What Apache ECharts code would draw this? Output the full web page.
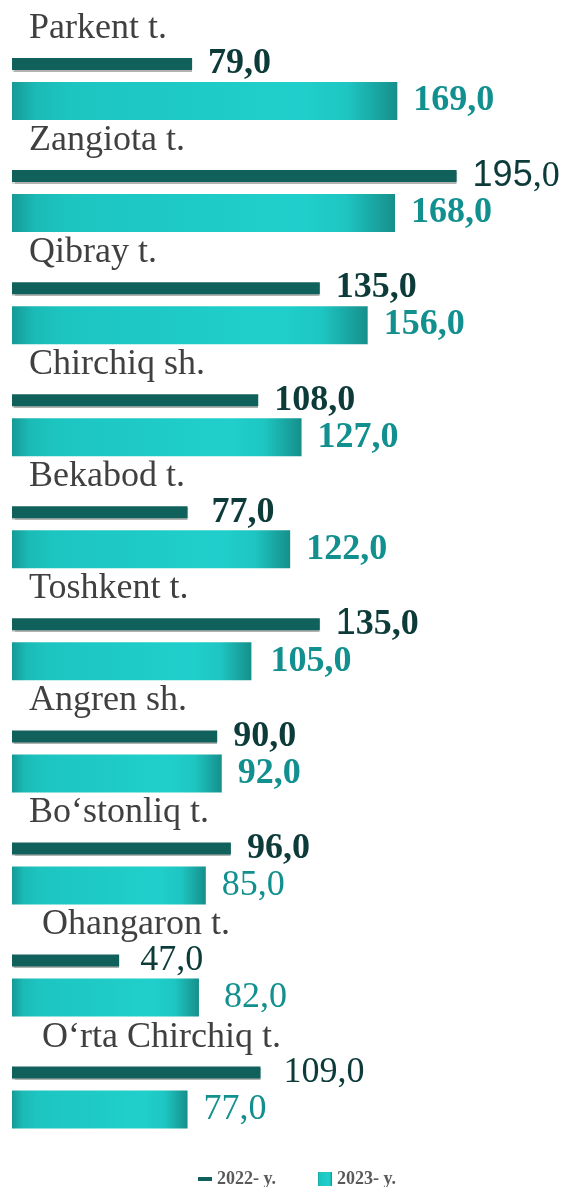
<!DOCTYPE html>
<html>
<head>
<meta charset="utf-8">
<script src="https://cdn.jsdelivr.net/npm/echarts@6/dist/echarts.min.js"></script>
<style>
html, body { margin: 0; height: 100%; background: #fff; }
#container { width: 564px; height: 1187px; }
</style>
</head>
<body>
<div id="container"></div>
<script>
var categories = ['Parkent t.', 'Zangiota t.', 'Qibray t.', 'Chirchiq sh.', 'Bekabod t.',
    'Toshkent t.', 'Angren sh.', 'Bo‘stonliq t.', 'Ohangaron t.', 'O‘rta Chirchiq t.'];
var values2022 = [79, 195, 135, 108, 77, 135, 90, 96, 47, 109];
var values2023 = [169, 168, 156, 127, 122, 105, 92, 85, 82, 77];
var seriesNames = ['2022- y.', '2023- y.'];

var SERIF = '"Liberation Serif", "Times New Roman", serif';
var SANS = '"Liberation Sans", Arial, sans-serif';
var barDark = '#10605c';
var labelDark = '#0c3b39';
var labelTeal = '#12908f';

function fmt(v) { return v.toFixed(1).replace('.', ','); }

// the source mixes fonts in a couple of labels
function mixedAll(p) {
    var s = fmt(p.value).split(',');
    return '{s|' + s[0] + '}{t|,' + s[1] + '}';
}
function mixedFirst(p) {
    var s = fmt(p.value);
    return '{s|' + s.charAt(0) + '}{t|' + s.slice(1) + '}';
}
var sansPart = { fontFamily: SANS, fontSize: 36, fontWeight: 'normal', color: labelDark };

var tweak2022 = {
    'Zangiota t.': { formatter: mixedAll, rich: { s: sansPart, t: { fontFamily: SERIF, fontSize: 36, fontWeight: 'normal', color: labelDark } } },
    'Toshkent t.': { formatter: mixedFirst, rich: { s: sansPart, t: { fontFamily: SERIF, fontSize: 36, fontWeight: 'bold', color: labelDark } } },
    'Bekabod t.': { distance: 24 },
    'Ohangaron t.': { fontWeight: 'normal', distance: 21 },
    'O‘rta Chirchiq t.': { fontWeight: 'normal', distance: 23 }
};
var tweak2023 = {
    'Toshkent t.': { distance: 19 },
    'Bo‘stonliq t.': { fontWeight: 'normal' },
    'Ohangaron t.': { fontWeight: 'normal', distance: 25 },
    'O‘rta Chirchiq t.': { fontWeight: 'normal' }
};

function buildData(values, tweaks) {
    return values.map(function (v, i) {
        var item = { value: v };
        if (tweaks[categories[i]]) item.label = tweaks[categories[i]];
        return item;
    });
}

var tealGradient = {
    type: 'linear', x: 0, y: 0, x2: 1, y2: 0,
    colorStops: [
        { offset: 0, color: '#159a96' },
        { offset: 0.06, color: '#1bbab6' },
        { offset: 0.15, color: '#1dc5c1' },
        { offset: 0.75, color: '#20cfcb' },
        { offset: 0.87, color: '#1ec6c2' },
        { offset: 1, color: '#168f8b' }
    ]
};

var legendText = { fontFamily: SERIF, fontSize: 18, fontWeight: 'bold', color: '#595959' };

var chart = echarts.init(document.getElementById('container'));
chart.setOption({
    animation: false,
    grid: { left: 12, right: 96, top: 33, bottom: 33.4 },
    legend: [
        { data: [seriesNames[0]], left: 193, top: 1165, icon: 'rect', itemWidth: 14, itemHeight: 4, textStyle: legendText },
        { data: [seriesNames[1]], left: 313, top: 1165, icon: 'rect', itemWidth: 14, itemHeight: 14, textStyle: legendText }
    ],
    xAxis: { type: 'value', min: 0, max: 200, show: false },
    yAxis: {
        type: 'category',
        data: categories,
        inverse: true,
        axisLine: { show: false },
        axisTick: { show: false },
        splitLine: { show: false },
        axisLabel: {
            inside: true,
            margin: 17,
            interval: 0,
            align: 'left',
            verticalAlign: 'middle',
            padding: [0, 0, 121, 0],
            formatter: function (v, i) {
                return (i >= 8 ? '{b|' : '{a|') + v + '}';
            },
            rich: {
                a: { fontFamily: SERIF, fontSize: 36, color: '#404040' },
                b: { fontFamily: SERIF, fontSize: 36, color: '#404040', padding: [0, 0, 0, 13] }
            }
        }
    },
    series: [
        {
            name: seriesNames[0],
            type: 'bar',
            barWidth: 12,
            barGap: '100%',
            data: buildData(values2022, tweak2022),
            itemStyle: { color: barDark, shadowColor: 'rgba(0,0,0,0.3)', shadowOffsetY: 1.5, shadowBlur: 1 },
            label: {
                show: true, position: 'right', distance: 16,
                formatter: function (p) { return fmt(p.value); },
                fontFamily: SERIF, fontSize: 36, fontWeight: 'bold', color: labelDark
            },
            silent: true
        },
        {
            name: seriesNames[1],
            type: 'bar',
            barWidth: 38,
            data: buildData(values2023, tweak2023),
            itemStyle: { color: tealGradient },
            label: {
                show: true, position: 'right', distance: 16,
                formatter: function (p) { return fmt(p.value); },
                fontFamily: SERIF, fontSize: 36, fontWeight: 'bold', color: labelTeal
            },
            silent: true
        }
    ]
});
</script>
</body>
</html>
